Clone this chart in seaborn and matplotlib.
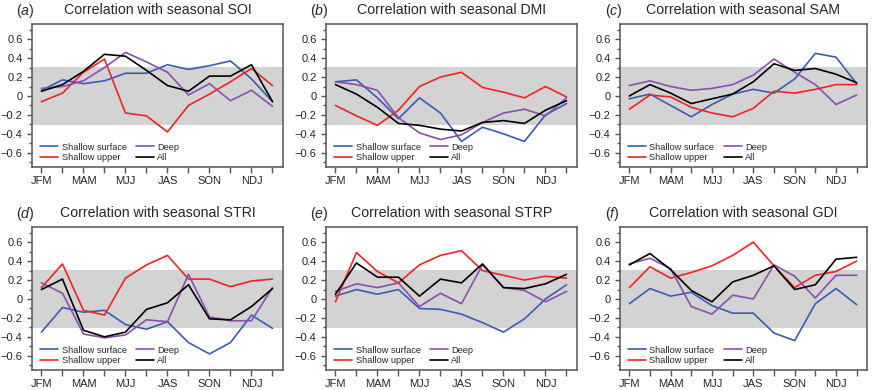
import numpy as np
import pandas as pd
import seaborn as sns
import matplotlib.pyplot as plt

seasons = ['JFM', 'FMA', 'MAM', 'AMJ', 'MJJ', 'JJA', 'JAS', 'ASO', 'SON', 'OND', 'NDJ', 'DJF']
series_names = ['Shallow surface', 'Shallow upper', 'Deep', 'All']
panel_labels = ['a', 'b', 'c', 'd', 'e', 'f']
indices = ['SOI', 'DMI', 'SAM', 'STRI', 'STRP', 'GDI']

# correlation values (per index, per series)
soi_surface = [0.06, 0.17, 0.13, 0.16, 0.24, 0.24, 0.33, 0.28, 0.32, 0.37, 0.18, -0.06]
soi_upper = [-0.06, 0.03, 0.25, 0.39, -0.18, -0.21, -0.38, -0.10, 0.02, 0.15, 0.29, 0.11]
soi_deep = [0.08, 0.10, 0.16, 0.30, 0.46, 0.36, 0.25, 0.01, 0.13, -0.05, 0.06, -0.11]
soi_all = [0.05, 0.12, 0.26, 0.44, 0.42, 0.27, 0.11, 0.05, 0.21, 0.21, 0.33, -0.06]

dmi_surface = [0.15, 0.17, -0.02, -0.24, -0.02, -0.18, -0.48, -0.33, -0.40, -0.48, -0.20, -0.08]
dmi_upper = [-0.10, -0.21, -0.31, -0.15, 0.10, 0.20, 0.25, 0.09, 0.04, -0.02, 0.10, -0.01]
dmi_deep = [0.15, 0.12, 0.06, -0.23, -0.39, -0.46, -0.41, -0.28, -0.18, -0.14, -0.21, -0.02]
dmi_all = [0.12, 0.02, -0.12, -0.29, -0.31, -0.35, -0.37, -0.28, -0.26, -0.29, -0.15, -0.05]

sam_surface = [-0.03, 0.02, -0.10, -0.22, -0.09, 0.02, 0.07, 0.03, 0.18, 0.45, 0.41, 0.13]
sam_upper = [-0.14, 0.01, -0.01, -0.12, -0.18, -0.22, -0.13, 0.05, 0.03, 0.07, 0.12, 0.12]
sam_deep = [0.11, 0.16, 0.10, 0.06, 0.08, 0.12, 0.22, 0.39, 0.25, 0.12, -0.09, 0.01]
sam_all = [0.00, 0.12, 0.03, -0.08, -0.03, 0.02, 0.15, 0.34, 0.27, 0.29, 0.23, 0.14]

stri_surface = [-0.35, -0.09, -0.14, -0.12, -0.27, -0.32, -0.24, -0.46, -0.58, -0.46, -0.17, -0.31]
stri_upper = [0.12, 0.37, -0.12, -0.17, 0.22, 0.36, 0.46, 0.21, 0.21, 0.13, 0.19, 0.21]
stri_deep = [0.17, 0.06, -0.37, -0.41, -0.38, -0.22, -0.24, 0.26, -0.19, -0.23, -0.23, 0.12]
stri_all = [0.10, 0.21, -0.33, -0.40, -0.35, -0.11, -0.04, 0.15, -0.21, -0.22, -0.08, 0.11]

strp_surface = [0.03, 0.10, 0.05, 0.10, -0.10, -0.11, -0.16, -0.25, -0.35, -0.21, 0.00, 0.15]
strp_upper = [-0.03, 0.49, 0.29, 0.17, 0.36, 0.46, 0.51, 0.30, 0.25, 0.20, 0.24, 0.22]
strp_deep = [0.08, 0.16, 0.12, 0.17, -0.08, 0.06, -0.05, 0.36, 0.12, 0.09, -0.03, 0.08]
strp_all = [0.05, 0.38, 0.23, 0.23, 0.03, 0.21, 0.17, 0.37, 0.12, 0.11, 0.16, 0.26]

gdi_surface = [-0.05, 0.11, 0.03, 0.07, -0.07, -0.15, -0.15, -0.36, -0.44, -0.05, 0.11, -0.06]
gdi_upper = [0.12, 0.34, 0.22, 0.28, 0.35, 0.46, 0.60, 0.35, 0.12, 0.25, 0.29, 0.40]
gdi_deep = [0.37, 0.43, 0.32, -0.08, -0.16, 0.04, 0.00, 0.36, 0.24, 0.01, 0.25, 0.25]
gdi_all = [0.36, 0.48, 0.31, 0.09, -0.03, 0.18, 0.25, 0.35, 0.10, 0.15, 0.42, 0.44]

sig_level = 0.31

panels = [
    [soi_surface, soi_upper, soi_deep, soi_all],
    [dmi_surface, dmi_upper, dmi_deep, dmi_all],
    [sam_surface, sam_upper, sam_deep, sam_all],
    [stri_surface, stri_upper, stri_deep, stri_all],
    [strp_surface, strp_upper, strp_deep, strp_all],
    [gdi_surface, gdi_upper, gdi_deep, gdi_all],
]

palette = {'Shallow surface': '#3b5cb5', 'Shallow upper': '#f22222',
           'Deep': '#8a4fae', 'All': '#000000'}

sns.set_style('ticks')
plt.rcParams['font.family'] = ['Liberation Sans', 'DejaVu Sans']
plt.rcParams['mathtext.fontset'] = 'custom'
plt.rcParams['mathtext.rm'] = 'Liberation Sans'
plt.rcParams['mathtext.it'] = 'Liberation Sans:italic'

fig = plt.figure(figsize=(8.72, 3.9), dpi=100)
# axes boxes in pixels
lefts = [32, 326, 620]
widths = [251, 251, 247]
tops = [24, 227]
height = 143

for i, data in enumerate(panels):
    r, c = divmod(i, 3)
    ax = fig.add_axes([lefts[c] / 872, 1 - (tops[r] + height) / 390,
                       widths[c] / 872, height / 390])
    df = pd.DataFrame({
        'x': np.tile(np.arange(len(seasons)), len(series_names)),
        'r': np.concatenate(data),
        'series': np.repeat(series_names, len(seasons)),
    })
    ax.axhspan(-sig_level, sig_level, color='#d3d3d3', lw=0, zorder=0)
    sns.lineplot(data=df, x='x', y='r', hue='series', hue_order=series_names,
                 palette=palette, lw=1.2, ax=ax)
    ax.set_xlim(-0.45, 11.5)
    ax.set_ylim(-0.75, 0.76)
    ax.set_xticks(np.arange(len(seasons)))
    ax.set_xticklabels([s if k % 2 == 0 else '' for k, s in enumerate(seasons)])
    ax.set_yticks([-0.6, -0.4, -0.2, 0, 0.2, 0.4, 0.6])
    ax.set_yticklabels(['\u22120.6', '\u22120.4', '\u22120.2', '0', '0.2', '0.4', '0.6'])
    ax.set_yticks(np.arange(-0.7, 0.71, 0.1), minor=True)
    ax.tick_params(axis='both', labelsize=8, length=3.8, width=1.0, color='#555555', pad=3)
    ax.tick_params(axis='y', which='minor', length=2.2, width=1.0, color='#555555')
    ax.tick_params(axis='x', length=4, pad=2.5)
    ax.set_xlabel('')
    ax.set_ylabel('')
    for sp in ax.spines.values():
        sp.set_color('#555555')
        sp.set_linewidth(1.1)
    ax.set_title('Correlation with seasonal ' + indices[i], fontsize=10.2, pad=7)
    ax.text(-0.062, 1.0 + 9 / height, '($\\it{%s}$)' % panel_labels[i], transform=ax.transAxes,
            fontsize=10.2, va='baseline', ha='left')
    ax.legend(loc='lower left', ncol=2, frameon=False, fontsize=6.6,
              handlelength=2.0, handletextpad=0.35, columnspacing=1.0,
              labelspacing=0.15, borderpad=0, borderaxespad=0,
              bbox_to_anchor=(0.032, 0.035))

fig.savefig('out.png', dpi=100)
